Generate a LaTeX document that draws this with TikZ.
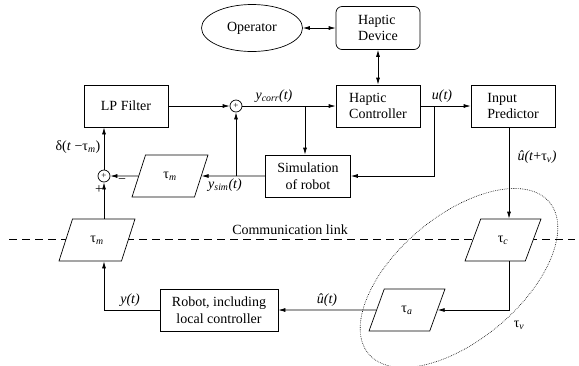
\documentclass[tikz,border=0pt]{standalone}
\usepackage{fontspec}
\setmainfont{Liberation Serif}
\usetikzlibrary{arrows.meta,shapes.geometric,calc}
\begin{document}
\begin{tikzpicture}[x=1pt,y=-1pt,
  every node/.style={font=\fontsize{14}{16.5}\selectfont},
  conn/.style={line width=0.7pt},
  box/.style={draw,line width=0.7pt,minimum width=84pt,minimum height=42pt,inner sep=2pt},
  para/.style={draw,fill=white,line width=0.7pt,trapezium,trapezium left angle=67,trapezium right angle=113,minimum height=42pt,minimum width=76pt,trapezium stretches=true,inner sep=0pt},
  sumc/.style={draw,circle,fill=white,line width=0.7pt,minimum size=12pt,inner sep=0pt,font=\fontsize{9}{9}\selectfont},
  arr/.style={conn,-{Latex[length=7pt,width=4pt]}},
  darr/.style={conn,{Latex[length=7pt,width=4pt]}-{Latex[length=7pt,width=4pt]}},
  commline/.style={line width=0.7pt,dash pattern=on 8pt off 5pt},
  dotell/.style={line width=0.6pt,dash pattern=on 0.7pt off 1.1pt}
]
\useasboundingbox (0,0) rectangle (579,365);
% communication link
\coordinate (cl1) at (9,239);
\coordinate (cl2) at (575,239);
\draw[commline] (cl1) -- (cl2);
\node (cltxt) at (290,230) {Communication link};

% nodes
\node[ellipse,draw,conn,minimum width=101pt,minimum height=47pt] (op) at (252,28) {Operator};
\node[box,rounded corners=6pt,align=left,minimum height=43pt] (hd) at (378,28) {Haptic\\Device};
\node[box,align=left] (hc) at (378,106) {Haptic\\Controller};
\node[box,align=left] (ip) at (513,106) {Input\\Predictor};
\node[box] (lp) at (126,106) {LP Filter};
\node[sumc] (s1) at (236,106) {+};
\node[box,align=center,minimum width=85pt] (sim) at (308,176) {Simulation\\of robot};
\node[para] (tmu) at (170,176) {τ\textsubscript{\textit{m}}};
\node[sumc] (s2) at (104,176) {+};
\node[para] (tml) at (97,240) {τ\textsubscript{\textit{m}}};
\node[para] (tc) at (503,240) {τ\textsubscript{\textit{c}}};
\node[para] (ta) at (407,310) {τ\textsubscript{\textit{a}}};
\node[box,minimum width=118pt,align=center] (rob) at (219,310) {Robot, including\\local controller};

% helper coordinates
\coordinate (vx) at (509,0);
\coordinate (bu) at (434,0);
\coordinate (bc) at (305,0);

% connectors
\draw[darr] (op.east) -- (hd.west);
\draw[darr] (hd.south) -- (hc.north);
\draw[arr] (lp.east) -- (s1.west);
\draw[arr] (s1.east) -- (hc.west);
\draw[arr] (s1 -| bc) -- (sim.north -| bc);
\draw[arr] (hc.east) -- (ip.west);
\draw[arr] (hc.east -| bu) |- (sim.east);
\draw[arr] (sim.west) -- (tmu.east);
\draw[arr] (sim.west -| s1) -- (s1.south);
\draw[arr] (tmu.west) -- (s2.east);
\draw[arr] (s2.north) -- (lp.south -| s2);
\draw[arr] (tml.north -| s2) -- (s2.south);
\draw[arr] (rob.west) -| (tml.south -| s2);
\draw[arr] (ip.south -| vx) -- (tc.north -| vx);
\draw[arr] (tc.south -| vx) |- (ta.east);
\draw[arr] (ta.west) -- (rob.east);

% labels
\node (lycorr) at (274,96) {\textit{y\textsubscript{corr}(t)}};
\node (lu) at (442,96) {\textit{u(t)}};
\node (luhat) at (537,157) {\textit{\^{u}(t}+τ\textsubscript{\textit{v}}\textit{)}};
\node (ldelta) at (78,147) {δ(\textit{t} −τ\textsubscript{\textit{m}})};
\node (lysim) at (225,185) {\textit{y\textsubscript{sim}(t)}};
\node (ly) at (130,300) {\textit{y(t)}};
\node (luh2) at (327,300) {\textit{\^{u}(t)}};
\node (ltv) at (519,325) {τ\textsubscript{\textit{v}}};
\node (lminus) at (122,181) {−};
\node (lplus) at (99,190) {+};

% dotted ellipse
\coordinate (ec) at (459,278);
\draw[dotell,rotate around={40:(ec)}] (ec) ellipse [x radius=118pt,y radius=62pt];
\end{tikzpicture}
\end{document}
